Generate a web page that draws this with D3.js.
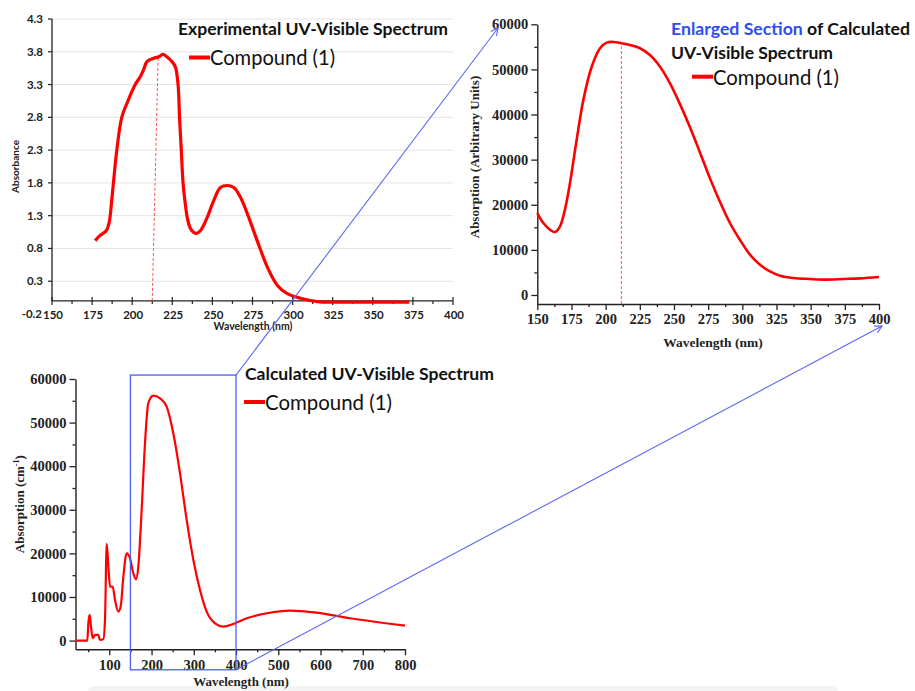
<!DOCTYPE html>
<html>
<head>
<meta charset="utf-8">
<script src="https://cdn.jsdelivr.net/npm/d3@7"></script>
<style>
  body { margin: 0; background: #fff; }
  svg { display: block; }
</style>
</head>
<body>
<script>
// ---- Experimental UV-Visible spectrum (absorbance) ----
const expWavelength = [176.9, 180, 183.8, 185.5, 186.3, 187.3, 188.3, 190.4, 193.5, 197, 201.9, 205, 207, 209.2, 213.3, 216.4, 219.2, 221.7, 224.8, 226.9, 228.6, 229.5, 230.6, 231.7, 233, 234.4, 236, 238, 240, 242.5, 246.7, 250.8, 255, 259.2, 263.3, 267.5, 272.7, 277.9, 284.2, 290.4, 296.7, 305, 315.4, 325.8, 346.7, 372.7];
const expAbsorbance = [0.92, 1.0, 1.07, 1.18, 1.3, 1.55, 1.8, 2.3, 2.8, 3.03, 3.3, 3.42, 3.52, 3.65, 3.70, 3.72, 3.76, 3.72, 3.65, 3.57, 3.3, 2.8, 2.3, 1.8, 1.5, 1.26, 1.12, 1.05, 1.03, 1.07, 1.27, 1.53, 1.73, 1.76, 1.73, 1.58, 1.27, 0.92, 0.52, 0.24, 0.11, 0.04, -0.01, -0.02, -0.02, -0.02];
const expXTicks = [150, 175, 200, 225, 250, 275, 300, 325, 350, 375, 400];
const expYTicks = [-0.2, 0.3, 0.8, 1.3, 1.8, 2.3, 2.8, 3.3, 3.8, 4.3];
const expMarker = [[212.5, 0], [216.2, 3.75]];   // λmax guide line

// ---- Calculated spectrum, enlarged 150–400 nm section ----
const enlWavelength = [150, 154.4, 159.3, 162.9, 166.6, 170.2, 173.9, 178.8, 183.7, 189.8, 195.9, 200.7, 205.6, 211.7, 217.8, 225.1, 232.4, 239.8, 247.1, 254.4, 261.7, 269, 276.3, 283.7, 291, 298.3, 305.6, 312.9, 320.2, 327.6, 337.3, 349.5, 361.7, 373.9, 386.1, 400];
const enlAbsorption = [18150, 15940, 14470, 13950, 15200, 18900, 24800, 34400, 43250, 50600, 54700, 55940, 56090, 55800, 55420, 54700, 53200, 50600, 46900, 42300, 37200, 31600, 25900, 20600, 15900, 12200, 8930, 6720, 5240, 4280, 3760, 3540, 3400, 3540, 3690, 3990];
const enlXTicks = [150, 175, 200, 225, 250, 275, 300, 325, 350, 375, 400];
const enlYTicks = [0, 10000, 20000, 30000, 40000, 50000, 60000];
const enlMarker = [[211.5, -2000], [211.5, 55100]];

// ---- Calculated spectrum, full range ----
const calcWavelength = [22, 48, 50.4, 53.6, 56.7, 60.7, 66.2, 74, 78, 85.8, 89.8, 93.9, 97.8, 101.7, 108, 113.5, 121.4, 127, 133.3, 141.2, 149, 156.9, 163.2, 168.7, 176.6, 184.5, 192.3, 204.2, 220, 235.8, 251.5, 267.4, 283.2, 299, 314.7, 330.5, 350.3, 370, 393.6, 425.3, 472.6, 527.8, 590.8, 669.9, 800];
const calcAbsorption = [0, 0, 3970, 5880, 3200, 535, 1300, 1300, 150, 300, 4740, 22160, 16970, 12380, 12380, 9320, 6650, 7800, 14670, 20020, 18880, 15440, 14060, 16970, 29960, 45250, 54420, 56180, 55560, 53650, 47540, 38370, 27670, 18500, 11620, 6650, 3970, 3210, 3820, 5120, 6270, 6880, 6420, 5120, 3440];
const calcXTicks = [100, 200, 300, 400, 500, 600, 700, 800];
const calcYTicks = [0, 10000, 20000, 30000, 40000, 50000, 60000];

// section of the full spectrum that is shown enlarged
const zoomRange = [150, 400];
const zoomBoxValues = [-6700, 60900];

const W = 915, H = 691;
const RED = "#ff0000", BLUE = "#5c68f5";
const SANS = "Lato, 'Open Sans', sans-serif";
const SERIF = "'Liberation Serif', 'DejaVu Serif', serif";

const svg = d3.select("body").append("svg").attr("width", W).attr("height", H);

// faint panel edge along the bottom
svg.append("rect").attr("x", 88).attr("y", 686).attr("width", 750).attr("height", 20)
  .attr("rx", 6).attr("fill", "#f3f3f3");

svg.append("defs").append("marker")
  .attr("id", "arrow").attr("viewBox", "0 0 10 10").attr("refX", 9).attr("refY", 5)
  .attr("markerWidth", 9).attr("markerHeight", 9).attr("markerUnits", "userSpaceOnUse")
  .attr("orient", "auto")
  .append("path").attr("d", "M1,1 L9,5 L1,9").attr("fill", "none")
  .attr("stroke", BLUE).attr("stroke-width", 1.3);

function legend(g, x, y, textX, baseline, size, width) {
  g.append("line").attr("x1", x).attr("x2", textX).attr("y1", y).attr("y2", y)
    .attr("stroke", RED).attr("stroke-width", 4);
  g.append("text").attr("x", textX).attr("y", baseline)
    .attr("font-family", SANS).attr("font-size", size).attr("fill", "#111")
    .attr("textLength", width).attr("lengthAdjust", "spacingAndGlyphs")
    .text("Compound (1)");
}

const smooth = d3.curveCatmullRom.alpha(0.5);

// =============== Experimental chart ===============
(function () {
  const g = svg.append("g");
  const x = d3.scaleLinear().domain([150, 400]).range([52, 453]);
  const y = d3.scaleLinear().domain([-0.2, 4.3]).range([314, 19]);
  const y0 = y(0);

  // gridlines
  g.selectAll(".grid").data(expYTicks.filter(v => v > 0)).join("line")
    .attr("x1", x(150)).attr("x2", x(400))
    .attr("y1", d => y(d)).attr("y2", d => y(d))
    .attr("stroke", "#e4e4e4").attr("stroke-width", 1);

  // y axis
  g.append("line").attr("x1", x(150)).attr("x2", x(150)).attr("y1", y(4.3)).attr("y2", y0)
    .attr("stroke", "#222").attr("stroke-width", 1.3);
  g.selectAll(".ytick").data(expYTicks.filter(v => v > 0)).join("line")
    .attr("x1", x(150) - 4).attr("x2", x(150))
    .attr("y1", d => y(d)).attr("y2", d => y(d)).attr("stroke", "#222").attr("stroke-width", 1.2);
  g.selectAll(".ylab").data(expYTicks).join("text")
    .attr("x", d => x(150) - (d < 0 ? 10 : 9)).attr("y", d => y(d)).attr("dy", "0.35em")
    .attr("text-anchor", "end").attr("font-family", SANS).attr("font-weight", 700)
    .attr("font-size", 11.5).attr("fill", "#222").text(d => d.toFixed(1));

  // x axis (crosses at zero)
  g.append("line").attr("x1", x(150)).attr("x2", x(400)).attr("y1", y0).attr("y2", y0)
    .attr("stroke", "#222").attr("stroke-width", 1.3);
  g.selectAll(".xtick").data(expXTicks).join("line")
    .attr("x1", d => x(d)).attr("x2", d => x(d)).attr("y1", y0 - 4).attr("y2", y0 + 4)
    .attr("stroke", "#222").attr("stroke-width", 1.2);
  g.selectAll(".xminor").data(expXTicks.slice(0, -1).map(d => d + 12.5)).join("line")
    .attr("x1", d => x(d)).attr("x2", d => x(d)).attr("y1", y0).attr("y2", y0 + 3)
    .attr("stroke", "#222").attr("stroke-width", 1.2);
  g.selectAll(".xlab").data(expXTicks).join("text")
    .attr("x", d => x(d) + 1).attr("y", y(-0.2) + 1).attr("dy", "0.35em")
    .attr("text-anchor", "middle").attr("font-family", SANS).attr("font-weight", 700)
    .attr("font-size", 11.5).attr("fill", "#222").text(d => d);

  g.append("text").attr("x", 253).attr("y", 330).attr("text-anchor", "middle")
    .attr("font-family", SANS).attr("font-weight", 700).attr("font-size", 10.5).attr("fill", "#222")
    .text("Wavelength (nm)");
  g.append("text").attr("transform", `translate(19,${(y(4.3) + y(-0.2)) / 2}) rotate(-90)`)
    .attr("text-anchor", "middle").attr("font-family", SANS).attr("font-weight", 700)
    .attr("font-size", 10).attr("fill", "#222").text("Absorbance");

  // λmax guide
  g.append("line")
    .attr("x1", x(expMarker[0][0])).attr("y1", y(expMarker[0][1]))
    .attr("x2", x(expMarker[1][0])).attr("y2", y(expMarker[1][1]))
    .attr("stroke", "#ff5555").attr("stroke-width", 1).attr("stroke-dasharray", "3,2");

  const pts = expWavelength.map((w, i) => [w, expAbsorbance[i]]);
  g.append("path").datum(pts)
    .attr("d", d3.line().x(d => x(d[0])).y(d => y(d[1])).curve(smooth))
    .attr("fill", "none").attr("stroke", RED).attr("stroke-width", 3.2)
    .attr("stroke-linejoin", "round");

  g.append("text").attr("x", 178).attr("y", 35)
    .attr("font-family", SANS).attr("font-weight", 700).attr("font-size", 17).attr("fill", "#111")
    .attr("textLength", 270).attr("lengthAdjust", "spacingAndGlyphs")
    .text("Experimental UV-Visible Spectrum");
  legend(g, 189, 57.5, 210, 65, 20.5, 125);
})();

// axis helper for the Origin-style calculated charts
function originAxes(g, x, y, xTicks, xMinor, yTicks, yMinor) {
  const bottom = y.range()[0];
  const left = x.range()[0];
  const ax = g.append("g").attr("transform", `translate(0,${bottom})`)
    .call(d3.axisBottom(x).tickValues(xTicks).tickSize(6).tickSizeOuter(0).tickPadding(4).tickFormat(d3.format("d")));
  g.append("g").attr("transform", `translate(0,${bottom})`)
    .call(d3.axisBottom(x).tickValues(xMinor).tickSize(3).tickSizeOuter(0).tickFormat(""))
    .select(".domain").remove();
  const ay = g.append("g").attr("transform", `translate(${left},0)`)
    .call(d3.axisLeft(y).tickValues(yTicks).tickSize(6).tickSizeOuter(0).tickPadding(3).tickFormat(d3.format("d")));
  g.append("g").attr("transform", `translate(${left},0)`)
    .call(d3.axisLeft(y).tickValues(yMinor).tickSize(3).tickSizeOuter(0).tickFormat(""))
    .select(".domain").remove();
  g.selectAll(".domain").attr("stroke", "#222").attr("stroke-width", 1.4);
  g.selectAll(".tick line").attr("stroke", "#222").attr("stroke-width", 1.3);
  [ax, ay].forEach(a => a.selectAll("text")
    .attr("font-family", SERIF).attr("font-weight", 700).attr("font-size", 14.5).attr("fill", "#222"));
}

// =============== Enlarged calculated section ===============
(function () {
  const g = svg.append("g");
  const x = d3.scaleLinear().domain([150, 400]).range([537.3, 879]);
  const y = d3.scaleLinear().domain([-2000, 60000]).range([304, 24.3]);
  originAxes(g, x, y, enlXTicks, d3.range(162.5, 400, 25), enlYTicks, d3.range(5000, 60000, 10000));

  g.append("text").attr("x", 713).attr("y", 347).attr("text-anchor", "middle")
    .attr("font-family", SERIF).attr("font-weight", 700).attr("font-size", 13.5).attr("fill", "#222")
    .text("Wavelength (nm)");
  g.append("text").attr("transform", `translate(479,157) rotate(-90)`)
    .attr("text-anchor", "middle").attr("font-family", SERIF).attr("font-weight", 700)
    .attr("font-size", 13).attr("fill", "#222").text("Absorption (Arbitrary Units)");

  g.append("line")
    .attr("x1", x(enlMarker[0][0])).attr("y1", y(enlMarker[0][1]))
    .attr("x2", x(enlMarker[1][0])).attr("y2", y(enlMarker[1][1]))
    .attr("stroke", "#ff5555").attr("stroke-width", 1).attr("stroke-dasharray", "3,2");

  const pts = enlWavelength.map((w, i) => [w, enlAbsorption[i]]);
  g.append("path").datum(pts)
    .attr("d", d3.line().x(d => x(d[0])).y(d => y(d[1])).curve(smooth))
    .attr("fill", "none").attr("stroke", RED).attr("stroke-width", 2.6);

  const t = g.append("text").attr("x", 671).attr("y", 35)
    .attr("font-family", SANS).attr("font-weight", 700).attr("font-size", 17).attr("fill", "#111")
    .attr("textLength", 239).attr("lengthAdjust", "spacingAndGlyphs");
  t.append("tspan").attr("fill", "#2f4cf5").text("Enlarged Section");
  t.append("tspan").text(" of Calculated");
  g.append("text").attr("x", 671).attr("y", 58.5)
    .attr("font-family", SANS).attr("font-weight", 700).attr("font-size", 17).attr("fill", "#111")
    .attr("textLength", 162).attr("lengthAdjust", "spacingAndGlyphs")
    .text("UV-Visible Spectrum");
  legend(g, 692, 76.7, 713, 84.5, 20.5, 126);
})();

// =============== Full calculated spectrum ===============
const xC = d3.scaleLinear().domain([20, 800]).range([75.5, 405]);
const yC = d3.scaleLinear().domain([-2000, 60000]).range([649.3, 379]);
(function () {
  const g = svg.append("g");
  originAxes(g, xC, yC, calcXTicks, d3.range(50, 800, 100), calcYTicks, d3.range(5000, 60000, 10000));

  g.append("text").attr("x", 241).attr("y", 686).attr("text-anchor", "middle")
    .attr("font-family", SERIF).attr("font-weight", 700).attr("font-size", 13).attr("fill", "#222")
    .text("Wavelength (nm)");
  const yl = g.append("text").attr("transform", `translate(24,${(yC(60000) + yC(-2000)) / 2 - 10}) rotate(-90)`)
    .attr("text-anchor", "middle").attr("font-family", SERIF).attr("font-weight", 700)
    .attr("font-size", 13).attr("fill", "#222");
  yl.append("tspan").text("Absorption (cm");
  yl.append("tspan").attr("font-size", 8).attr("dy", -5).text("-1");
  yl.append("tspan").attr("dy", 5).text(")");

  const pts = calcWavelength.map((w, i) => [w, calcAbsorption[i]]);
  g.append("path").datum(pts)
    .attr("d", d3.line().x(d => xC(d[0])).y(d => yC(d[1])).curve(d3.curveMonotoneX))
    .attr("fill", "none").attr("stroke", RED).attr("stroke-width", 2.2);

  g.append("text").attr("x", 245).attr("y", 380)
    .attr("font-family", SANS).attr("font-weight", 700).attr("font-size", 17).attr("fill", "#111")
    .attr("textLength", 249).attr("lengthAdjust", "spacingAndGlyphs")
    .text("Calculated UV-Visible Spectrum");
  legend(g, 244, 402, 265, 409.5, 20.5, 127);
})();

// =============== Zoom annotation ===============
const bx0 = xC(zoomRange[0]), bx1 = xC(zoomRange[1]);
const by0 = yC(zoomBoxValues[1]), by1 = yC(zoomBoxValues[0]);
svg.append("rect").attr("x", bx0).attr("y", by0).attr("width", bx1 - bx0).attr("height", by1 - by0)
  .attr("fill", "none").attr("stroke", "#4a5ef2").attr("stroke-width", 1.3);
svg.append("line").attr("x1", bx1).attr("y1", by0).attr("x2", 498).attr("y2", 28)
  .attr("stroke", BLUE).attr("stroke-width", 1.1).attr("marker-end", "url(#arrow)");
svg.append("line").attr("x1", bx1).attr("y1", by1).attr("x2", 882).attr("y2", 326)
  .attr("stroke", BLUE).attr("stroke-width", 1.1).attr("marker-end", "url(#arrow)");
</script>
</body>
</html>
